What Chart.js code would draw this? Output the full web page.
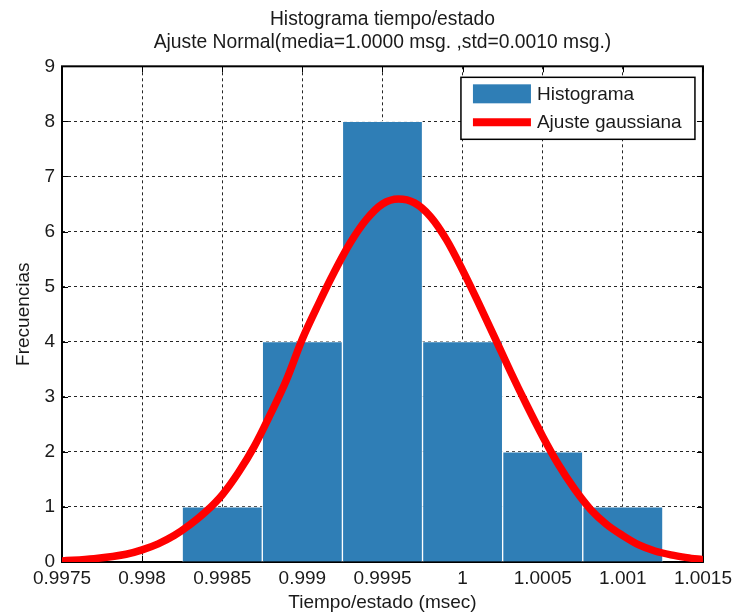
<!DOCTYPE html>
<html>
<head>
<meta charset="utf-8">
<script src="https://cdn.jsdelivr.net/npm/chart.js@4.4.1/dist/chart.umd.min.js"></script>
<style>
  html, body { margin: 0; padding: 0; background: #ffffff; }
  #wrap { width: 737px; height: 614px; }
</style>
</head>
<body>
<div id="wrap"><canvas id="c" width="737" height="614"></canvas></div>
<script>
// ---- data ----
const binCenters = [0.9985, 0.999, 0.9995, 1.0, 1.0005, 1.001];
const counts = [1, 4, 8, 4, 2, 1];

// fitted curve, sampled by eye along the red line
const fitX = [0.9975, 0.9977, 0.9979, 0.9980, 0.9981, 0.9982, 0.9983, 0.9984, 0.9985,
  0.9986, 0.9987, 0.9988, 0.9989, 0.9990, 0.9991, 0.9992, 0.9993, 0.9994, 0.9995,
  0.9996, 0.9997, 0.9998, 0.9999, 1.0000, 1.0001, 1.0002, 1.0003, 1.0004, 1.0005,
  1.0006, 1.0007, 1.0008, 1.0009, 1.0010, 1.0011, 1.0012, 1.0013, 1.0014, 1.0015];
const fitY = [0.02, 0.06, 0.14, 0.22, 0.33, 0.48, 0.68, 0.92, 1.22,
  1.62, 2.10, 2.68, 3.30, 4.05, 4.68, 5.27, 5.80, 6.22, 6.50,
  6.59, 6.52, 6.27, 5.85, 5.30, 4.70, 4.08, 3.45, 2.85, 2.28,
  1.76, 1.32, 0.95, 0.68, 0.48, 0.31, 0.20, 0.13, 0.08, 0.04];

const xTicks = [0.9975, 0.998, 0.9985, 0.999, 0.9995, 1, 1.0005, 1.001, 1.0015];
const xTickLabels = ['0.9975', '0.998', '0.9985', '0.999', '0.9995', '1', '1.0005', '1.001', '1.0015'];
const yTicks = [0, 1, 2, 3, 4, 5, 6, 7, 8, 9];
const yTickLabels = ['0', '1', '2', '3', '4', '5', '6', '7', '8', '9'];

const titleLines = ['Histograma tiempo/estado', 'Ajuste Normal(media=1.0000 msg. ,std=0.0010 msg.)'];
const xTitle = 'Tiempo/estado (msec)';
const yTitle = 'Frecuencias';
const seriesNames = ['Histograma', 'Ajuste gaussiana'];

// ---- styling ----
const FONT = "'Liberation Sans', Arial, sans-serif";
const TXT = '#1a1a1a';
const BAR = '#2f7eb6';
const RED = '#ff0000';

// box with inward ticks, drawn beneath the datasets
const axesBox = {
  id: 'axesBox',
  beforeDatasetsDraw(chart) {
    const {ctx, chartArea: a, scales} = chart;
    ctx.save();
    ctx.strokeStyle = '#000';
    ctx.lineWidth = 1;
    const tl = 6;
    ctx.beginPath();
    scales.x.ticks.forEach(t => {
      const px = Math.round(scales.x.getPixelForValue(t.value)) + 0.5;
      ctx.moveTo(px, a.bottom); ctx.lineTo(px, a.bottom - tl);
      ctx.moveTo(px, a.top); ctx.lineTo(px, a.top + tl);
    });
    scales.y.ticks.forEach(t => {
      const py = Math.round(scales.y.getPixelForValue(t.value)) + 0.5;
      ctx.moveTo(a.left, py); ctx.lineTo(a.left + tl, py);
      ctx.moveTo(a.right, py); ctx.lineTo(a.right - tl, py);
    });
    ctx.stroke();
    ctx.lineWidth = 2;
    ctx.strokeRect(a.left, a.top, a.right - a.left, a.bottom - a.top);
    ctx.restore();
  }
};

// legend box inside the plot, top-right
const boxLegend = {
  id: 'boxLegend',
  afterDraw(chart) {
    const {ctx, chartArea: a} = chart;
    const ds = chart.data.datasets;
    const w = 234, h = 62;
    const x0 = a.right - 8 - w, y0 = a.top + 11;
    ctx.save();
    ctx.fillStyle = '#fff';
    ctx.fillRect(x0, y0, w, h);
    ctx.strokeStyle = '#000';
    ctx.lineWidth = 1.5;
    ctx.strokeRect(x0, y0, w, h);
    ctx.fillStyle = ds[0].backgroundColor;
    ctx.fillRect(x0 + 12, y0 + 7, 58, 19);
    ctx.strokeStyle = ds[1].borderColor;
    ctx.lineWidth = 8;
    ctx.beginPath();
    ctx.moveTo(x0 + 12, y0 + 45);
    ctx.lineTo(x0 + 70, y0 + 45);
    ctx.stroke();
    ctx.fillStyle = TXT;
    ctx.font = '19px ' + FONT;
    ctx.textBaseline = 'middle';
    ctx.textAlign = 'left';
    ctx.fillText(ds[0].label, x0 + 76, y0 + 17);
    ctx.fillText(ds[1].label, x0 + 76, y0 + 45);
    ctx.restore();
  }
};

new Chart(document.getElementById('c'), {
  type: 'bar',
  data: {
    datasets: [
      {
        type: 'bar',
        label: seriesNames[0],
        data: binCenters.map((x, i) => ({x: x, y: counts[i]})),
        backgroundColor: BAR,
        borderColor: 'rgba(255,255,255,0.9)',
        borderWidth: 1,
        barPercentage: 1,
        categoryPercentage: 1,
        order: 2
      },
      {
        type: 'line',
        label: seriesNames[1],
        data: fitX.map((x, i) => ({x: x, y: fitY[i]})),
        borderColor: RED,
        backgroundColor: RED,
        borderWidth: 7.5,
        pointRadius: 0,
        fill: false,
        cubicInterpolationMode: 'monotone',
        borderCapStyle: 'round',
        borderJoinStyle: 'round',
        order: 1
      }
    ]
  },
  options: {
    responsive: false,
    animation: false,
    devicePixelRatio: 1,
    layout: { padding: { left: 0, right: 33, top: 0, bottom: 0 } },
    plugins: {
      legend: { display: false },
      tooltip: { enabled: false },
      title: {
        display: true,
        fullSize: false,
        text: titleLines,
        color: TXT,
        font: { family: FONT, size: 19.3, weight: 'normal', lineHeight: 1.2 },
        padding: { top: 8, bottom: 12 }
      }
    },
    scales: {
      x: {
        type: 'linear',
        min: 0.9975,
        max: 1.0015,
        offset: false,
        afterBuildTicks: (s) => { s.ticks = xTicks.map(v => ({value: v})); },
        afterFit: (s) => { s.height = 52; },
        ticks: {
          autoSkip: false,
          maxRotation: 0,
          padding: 5,
          color: TXT,
          font: { family: FONT, size: 19 },
          callback: (v, i) => xTickLabels[i]
        },
        grid: {
          offset: false,
          color: '#262626',
          lineWidth: 1,
          drawTicks: false
        },
        border: { display: false, dash: [3, 3] },
        title: {
          display: true,
          text: xTitle,
          color: TXT,
          font: { family: FONT, size: 19 },
          padding: { top: 0, bottom: 0 }
        }
      },
      y: {
        type: 'linear',
        min: 0,
        max: 9,
        afterBuildTicks: (s) => { s.ticks = yTicks.map(v => ({value: v})); },
        afterFit: (s) => { s.width = 62; },
        ticks: {
          autoSkip: false,
          padding: 7,
          color: TXT,
          font: { family: FONT, size: 19 },
          callback: (v, i) => yTickLabels[i]
        },
        grid: {
          color: '#262626',
          lineWidth: 1,
          drawTicks: false
        },
        border: { display: false, dash: [3, 3] },
        title: {
          display: true,
          text: yTitle,
          color: TXT,
          font: { family: FONT, size: 19 },
          padding: { top: 12, bottom: 0 }
        }
      }
    }
  },
  plugins: [axesBox, boxLegend]
});
</script>
</body>
</html>
